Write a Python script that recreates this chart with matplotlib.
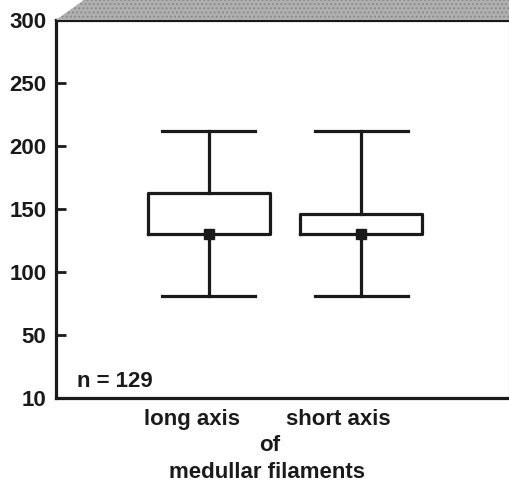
import matplotlib
matplotlib.use('Agg')
import matplotlib.pyplot as plt
from matplotlib.patches import Polygon

plt.rcParams['font.family'] = ['Liberation Sans', 'DejaVu Sans']
plt.rcParams['font.weight'] = 'bold'

# values
groups = ['long axis', 'short axis']
whisker_low = [81, 81]
q1 = [130, 130]
median = [130, 130]
q3 = [163, 146]
whisker_high = [212, 212]
n_label = 'n = 129'
ytick_vals = [0, 50, 100, 150, 200, 250, 300]
ytick_labels = ['10', '50', '100', '150', '200', '250', '300']

W, H = 509, 486
fs = 16
fig = plt.figure(figsize=(W / 100, H / 100), dpi=100)
ax = fig.add_axes([56 / W, 1 - 398 / H, 1 - 56 / W, (398 - 20) / H])

stats = []
for i, g in enumerate(groups):
    stats.append(dict(label=g, whislo=whisker_low[i], q1=q1[i], med=median[i],
                      q3=q3[i], whishi=whisker_high[i]))

pos = [1, 2]
lw = 2.3
ax.bxp(stats, positions=pos, widths=0.8, capwidths=0.61, showfliers=False,
       boxprops=dict(linewidth=lw, color='#1a1a1a'),
       whiskerprops=dict(linewidth=lw, color='#1a1a1a'),
       capprops=dict(linewidth=lw, color='#1a1a1a'),
       medianprops=dict(linewidth=0))
ax.plot(pos, median, 's', color='#1a1a1a', markersize=7, zorder=5)

ax.set_xlim(0.0, 2.97)
ax.set_ylim(0, 300)
ax.set_yticks(ytick_vals)
ax.set_yticklabels(ytick_labels, fontsize=fs, fontweight='bold')
ax.set_xticks([])
ax.tick_params(axis='y', direction='in', length=7, width=2, pad=7, colors='#1a1a1a')

for s in ['left', 'bottom', 'top']:
    ax.spines[s].set_linewidth(2.3)
    ax.spines[s].set_color('#1a1a1a')
ax.spines['right'].set_linewidth(0.8)
ax.spines['right'].set_color('#999999')

ax.text(0.047, 0.028, n_label, transform=ax.transAxes, fontsize=fs,
        fontweight='bold', va='baseline', ha='left', color='#1a1a1a')

# shaded 3D back wall on top
band = Polygon([(56 / W, 1 - 20 / H), (84 / W, 1.0), (1.0, 1.0), (1.0, 1 - 20 / H)],
               closed=True, transform=fig.transFigure, facecolor='#b0b0b0',
               edgecolor='#8c8c8c', hatch='....', linewidth=0, zorder=0)
fig.patches.append(band)

# category labels under the axis
tk = dict(ha='center', va='center', fontsize=fs, fontweight='bold', color='#1a1a1a')
fig.text(192 / W, 1 - 419 / H, groups[0], **tk)
fig.text(338 / W, 1 - 419 / H, groups[1], **tk)
fig.text(270 / W, 1 - 445 / H, 'of', **tk)
fig.text(267 / W, 1 - 472 / H, 'medullar filaments', **tk)

fig.savefig('out.png', dpi=100)
